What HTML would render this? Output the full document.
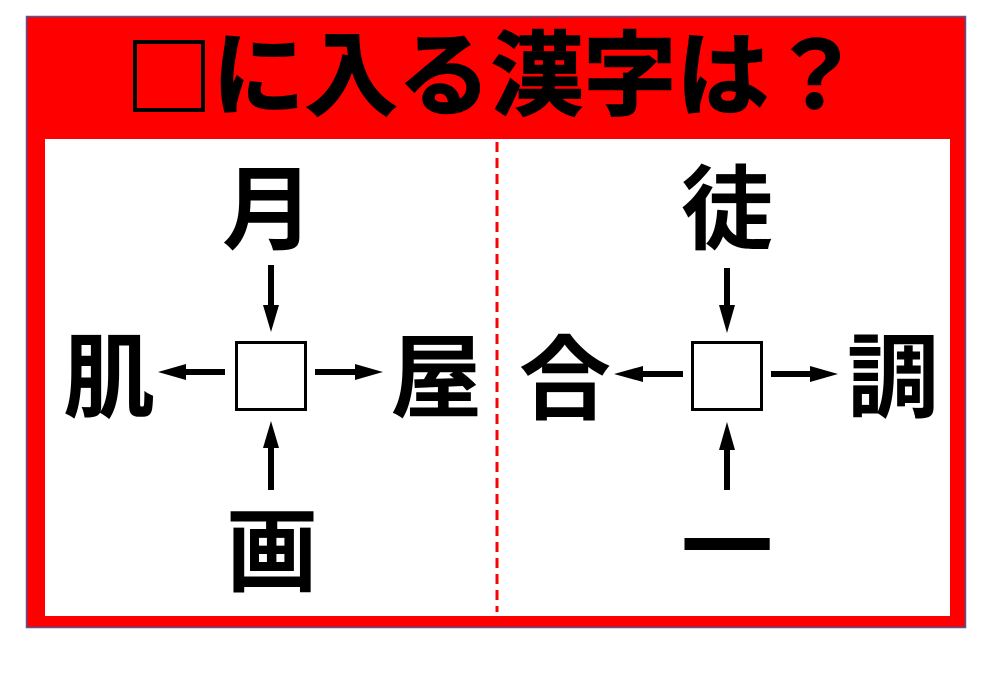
<!DOCTYPE html>
<html><head><meta charset="utf-8"><style>
html,body{margin:0;padding:0;background:#fff;width:1000px;height:685px;overflow:hidden}
svg text{font-family:"Liberation Sans","Noto Sans CJK JP",sans-serif;font-weight:bold}
</style></head><body>
<svg width="1000" height="685" viewBox="0 0 1000 685" xmlns="http://www.w3.org/2000/svg">
<rect x="26.5" y="16.5" width="939" height="611" fill="#ff0000" stroke="#4a5a9a" stroke-width="1.5"/>
<rect x="45" y="139" width="905" height="477" fill="#fff"/>
<line x1="497" y1="142" x2="497" y2="612" stroke="#ff0000" stroke-width="3" stroke-dasharray="10,6"/>
<rect x="135" y="42" width="68" height="68" fill="none" stroke="#000" stroke-width="4"/>
<text x="212" y="108" font-size="92" fill="#000" textLength="650" lengthAdjust="spacingAndGlyphs" stroke="#000" stroke-width="1.5">に入る漢字は？</text>
<g fill="#000" font-size="92" text-anchor="middle">
<text x="268" y="242">月</text>
<text x="109" y="410">肌</text>
<text x="436" y="410">屋</text>
<text x="272" y="584">画</text>
<text x="727" y="242">徒</text>
<text x="565" y="412">合</text>
<text x="893" y="410">調</text>
<text x="727" y="580">一</text>
</g>
<rect x="236.5" y="342.5" width="69" height="67" fill="#fff" stroke="#000" stroke-width="3"/>
<rect x="692.5" y="342.5" width="69" height="67" fill="#fff" stroke="#000" stroke-width="3"/>
<g stroke="#000" stroke-width="6" fill="none" stroke-linecap="butt">
<path d="M271 265 V306" /><path d="M263 305 L271 332 L279 305 Z" fill="#000" stroke="none"/>
<path d="M271 490 V447"/><path d="M263 448 L271 421 L279 448 Z" fill="#000" stroke="none"/>
<path d="M225 372 H185"/><path d="M186 364 L158 372 L186 380 Z" fill="#000" stroke="none"/>
<path d="M315 372 H356"/><path d="M355 364 L383 372 L355 380 Z" fill="#000" stroke="none"/>
<path d="M727 268 V306"/><path d="M719 305 L727 333 L735 305 Z" fill="#000" stroke="none"/>
<path d="M727 490 V449"/><path d="M719 450 L727 422 L735 450 Z" fill="#000" stroke="none"/>
<path d="M683 374 H642"/><path d="M643 366 L614 374 L643 382 Z" fill="#000" stroke="none"/>
<path d="M771 374 H811"/><path d="M810 366 L838 374 L810 382 Z" fill="#000" stroke="none"/>
</g>
</svg>
</body></html>
